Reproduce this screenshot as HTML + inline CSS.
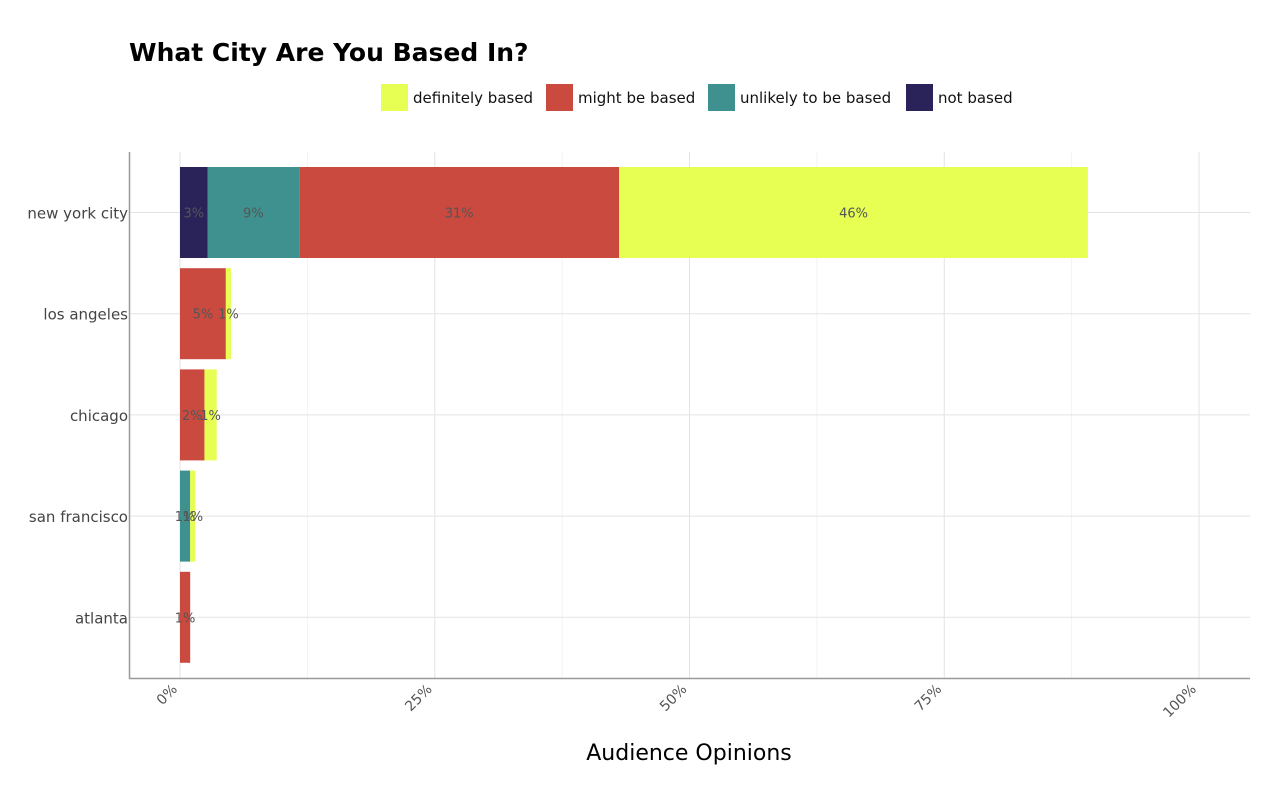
<!DOCTYPE html>
<html><head><meta charset="utf-8"><style>
body{margin:0;background:#fff;font-family:"DejaVu Sans","Liberation Sans",sans-serif;}
</style></head><body>
<svg id="chart" width="1278" height="789" xmlns="http://www.w3.org/2000/svg">
<rect width="1278" height="789" fill="#fff"/>
<text x="129" y="61" font-size="25" font-weight="bold" fill="#000">What City Are You Based In?</text>
<g id="legend"></g>
<g id="grid"></g><g id="bars"></g><g id="labels"></g><g id="axes"></g>
<text x="689" y="760" font-size="22" text-anchor="middle" fill="#000">Audience Opinions</text>
</svg>
<script>
const cities = ["new york city","los angeles","chicago","san francisco","atlanta"];
const seriesNames = ["not based","unlikely to be based","might be based","definitely based"];
const notBased = [2.7,0,0,0,0];
const unlikely = [9.0,0,0,1.0,0];
const might = [31.4,4.5,2.4,0,1.0];
const definitely = [46.0,0.5,1.2,0.5,0];
const xTicks = [0,25,50,75,100];
const xTickLabels = ["0%","25%","50%","75%","100%"];
const colors = ["#29235a","#3f918f","#cb4a3f","#e6ff52"];
const legendOrder = [3,2,1,0];

const NS="http://www.w3.org/2000/svg";
const x0=180, pxPer=(1199-180)/100;
const xs=v=>x0+v*pxPer;
const bandTop=i=>167+i*101.2, barH=91;
function mk(tag,attrs,parent,txt){const e=document.createElementNS(NS,tag);for(const k in attrs)e.setAttribute(k,attrs[k]);if(txt!==undefined)e.textContent=txt;parent.appendChild(e);return e;}
const grid=document.getElementById('grid'),bars=document.getElementById('bars'),labels=document.getElementById('labels'),axes=document.getElementById('axes'),legend=document.getElementById('legend');
// gridlines
for(let v=12.5;v<105;v+=25){const g=mk('line',{x1:xs(v),x2:xs(v),y1:152,y2:678,stroke:'#f2f2f2','stroke-width':1},grid);}
xTicks.forEach(v=>{const g=mk('line',{x1:xs(v),x2:xs(v),y1:152,y2:678,stroke:'#e3e3e3','stroke-width':1},grid);});
cities.forEach((c,i)=>{const y=bandTop(i)+barH/2;const g=mk('line',{x1:129,x2:1250,y1:y,y2:y,stroke:'#e3e3e3','stroke-width':1},grid);});
// bars
const series=[notBased,unlikely,might,definitely];
cities.forEach((c,i)=>{
  let acc=0;
  series.forEach((s,j)=>{
    const v=s[i]; if(v<=0) return;
    const r=mk('rect',{x:xs(acc),y:bandTop(i),width:v*pxPer,height:barH,fill:colors[j]},bars);
    
    
    const t=mk('text',{x:xs(acc+v/2),y:bandTop(i)+barH/2+5,'font-size':13,'text-anchor':'middle',fill:'#555'},labels,Math.round(v)+'%');
    
    
    acc+=v;
  });
  const yl=mk('text',{x:128,y:bandTop(i)+barH/2+6,'font-size':15,'text-anchor':'end',fill:'#444'},axes,c);
  
  
});
// axes
const ax=mk('path',{d:'M129.5 152 V678.5 H1250',stroke:'#999','stroke-width':1.5,fill:'none'},axes);


xTicks.forEach((v,k)=>{const t=mk('text',{x:xs(v)-2,y:690,'font-size':14,'text-anchor':'end',fill:'#555',transform:`rotate(-45 ${xs(v)-2} 690)`},axes,xTickLabels[k]);});
// legend
const lx=[381,546,708,906];
legendOrder.forEach((j,k)=>{
  const r=mk('rect',{x:lx[k],y:84,width:27,height:27,fill:colors[j]},legend);
  
  
  const t=mk('text',{x:lx[k]+32,y:103,'font-size':15,fill:'#111'},legend,seriesNames[j]);
  
  
});
</script>
</body></html>
